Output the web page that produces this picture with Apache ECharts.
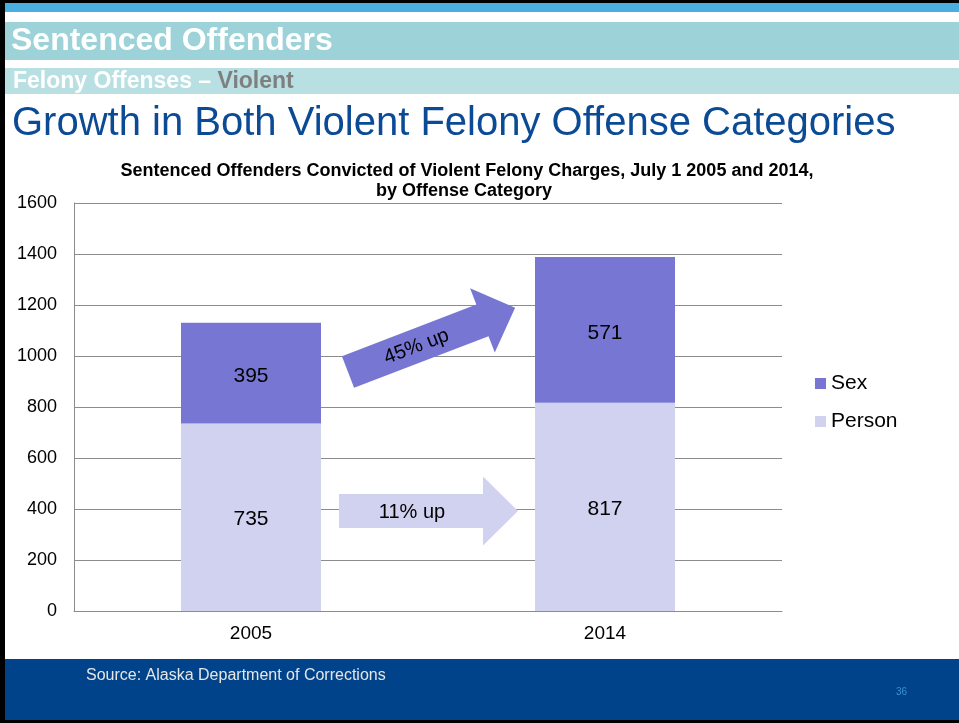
<!DOCTYPE html>
<html>
<head>
<meta charset="utf-8">
<script src="https://cdn.jsdelivr.net/npm/echarts@6/dist/echarts.min.js"></script>
<style>
  html, body { margin: 0; padding: 0; background: #fff; }
  #chart { width: 959px; height: 723px; }
</style>
</head>
<body>
<div id="chart"></div>
<script>
const years = ['2005', '2014']
const personValues = [735, 817]
const sexValues = [395, 571]
const seriesNames = ['Sex', 'Person']
const arrowLabels = ['11% up', '45% up']

const chart = echarts.init(document.getElementById('chart'))
const font = '"Liberation Sans", Arial, sans-serif'

// arrow shape, origin at middle of the tail
const arrowPts = [[0, -17], [144, -17], [144, -34.5], [179, 0], [144, 34.5], [144, 17], [0, 17]]

function arrow(x, y, angle, color, label) {
  return {
    type: 'group',
    x: x,
    y: y,
    z: 100,
    rotation: angle * Math.PI / 180,
    children: [
      { type: 'polygon', z: 100, shape: { points: arrowPts }, style: { fill: color } },
      {
        type: 'text', x: 73, y: 1, z: 101,
        style: { text: label, fill: '#000', font: '20px ' + font, textAlign: 'center', textVerticalAlign: 'middle' }
      }
    ]
  }
}

const option = {
  backgroundColor: '#fff',
  animation: false,
  textStyle: { fontFamily: font },
  grid: { left: 74, top: 203, right: 177, bottom: 112 },
  legend: {
    data: seriesNames,
    orient: 'vertical',
    left: 810,
    top: 368,
    itemWidth: 11,
    itemHeight: 11,
    itemGap: 17,
    icon: 'rect',
    textStyle: { color: '#000', fontSize: 21, fontFamily: font }
  },
  xAxis: {
    type: 'category',
    data: years,
    axisLine: { lineStyle: { color: '#8c8c8c' } },
    axisTick: { show: false },
    axisLabel: { color: '#000', fontSize: 19, margin: 13, fontFamily: font }
  },
  yAxis: {
    type: 'value',
    min: 0,
    max: 1600,
    interval: 200,
    axisLine: { show: true, lineStyle: { color: '#8c8c8c' } },
    axisTick: { show: false },
    splitLine: { lineStyle: { color: '#8c8c8c' } },
    axisLabel: { color: '#000', fontSize: 18, margin: 17, fontFamily: font, formatter: (v) => String(v) }
  },
  series: [
    {
      name: 'Person',
      type: 'bar',
      stack: 'total',
      barWidth: 140,
      data: personValues,
      itemStyle: { color: '#d0d2ef' },
      label: { show: true, position: 'inside', offset: [0, 2], color: '#000', fontSize: 21, fontFamily: font }
    },
    {
      name: 'Sex',
      type: 'bar',
      stack: 'total',
      barWidth: 140,
      data: sexValues,
      itemStyle: { color: '#7777d3' },
      label: { show: true, position: 'inside', offset: [0, 3], color: '#000', fontSize: 21, fontFamily: font }
    }
  ],
  graphic: [
    // frame and header bands
    { type: 'rect', shape: { x: 0, y: 0, width: 959, height: 3 }, style: { fill: '#000' } },
    { type: 'rect', shape: { x: 0, y: 3, width: 959, height: 9 }, style: { fill: '#4aaee0' } },
    { type: 'rect', shape: { x: 0, y: 22, width: 959, height: 38 }, style: { fill: '#9dd3d8' } },
    { type: 'rect', shape: { x: 0, y: 68, width: 959, height: 26 }, style: { fill: '#b8e0e3' } },
    { type: 'rect', shape: { x: 0, y: 659, width: 959, height: 62 }, style: { fill: '#00438a' } },
    { type: 'rect', shape: { x: 0, y: 720, width: 959, height: 3 }, style: { fill: '#000' } },
    { type: 'rect', shape: { x: 0, y: 0, width: 5, height: 723 }, style: { fill: '#000' } },
    {
      type: 'text', x: 11, y: 41,
      style: { text: 'Sentenced Offenders', fill: '#fff', font: 'bold 32px ' + font, textVerticalAlign: 'middle' }
    },
    {
      type: 'text', x: 13, y: 82,
      style: {
        text: '{w|Felony Offenses – }{g|Violent}',
        textVerticalAlign: 'middle',
        rich: {
          w: { fill: '#fff', font: 'bold 23px ' + font },
          g: { fill: '#7f7f7f', font: 'bold 23px ' + font }
        }
      }
    },
    {
      type: 'text', x: 12, y: 124,
      style: { text: 'Growth in Both Violent Felony Offense Categories', fill: '#0b4a94', font: '40px ' + font, textVerticalAlign: 'middle' }
    },
    {
      type: 'text', x: 467, y: 171,
      style: { text: 'Sentenced Offenders Convicted of Violent Felony Charges, July 1 2005 and 2014,', fill: '#000', font: 'bold 18px ' + font, textAlign: 'center', textVerticalAlign: 'middle' }
    },
    {
      type: 'text', x: 464, y: 191,
      style: { text: 'by Offense Category', fill: '#000', font: 'bold 18px ' + font, textAlign: 'center', textVerticalAlign: 'middle' }
    },
    {
      type: 'text', x: 86, y: 676,
      style: { text: 'Source: Alaska Department of Corrections', fill: '#e6e6e6', font: '16px ' + font, textVerticalAlign: 'middle' }
    },
    {
      type: 'text', x: 896, y: 692,
      style: { text: '36', fill: '#3d8fd6', font: '10px ' + font, textVerticalAlign: 'middle' }
    },
    arrow(339, 511, 0, '#d0d2ef', arrowLabels[0]),
    arrow(348, 372, 21, '#7777d3', arrowLabels[1])
  ]
}

chart.setOption(option)
</script>
</body>
</html>
